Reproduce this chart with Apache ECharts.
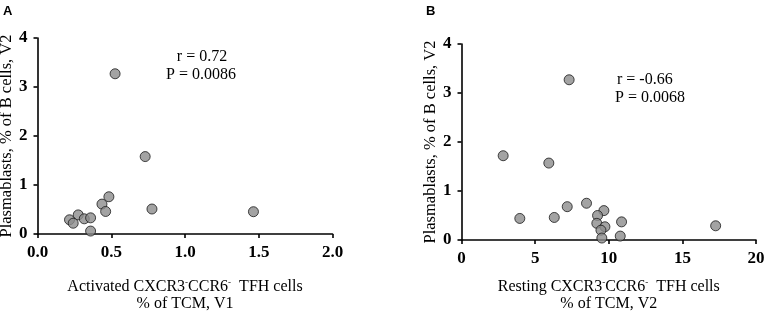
<!DOCTYPE html>
<html>
<head>
<meta charset="utf-8">
<script src="https://cdn.jsdelivr.net/npm/echarts@6/dist/echarts.min.js"></script>
<style>
  html, body { margin: 0; padding: 0; background: #fff; }
  #chart { width: 765px; height: 313px; }
</style>
</head>
<body>
<div id="chart"></div>
<script>
// panel A: activated CXCR3-CCR6- TFH (V1) vs plasmablasts (V2)
var activatedX = [0.526, 0.73, 0.776, 1.464, 0.484, 0.437, 0.462, 0.276, 0.217, 0.242, 0.317, 0.36, 0.36];
var activatedY = [3.27, 1.58, 0.51, 0.455, 0.76, 0.61, 0.46, 0.39, 0.29, 0.22, 0.31, 0.33, 0.06];

// panel B: resting CXCR3-CCR6- TFH (V2) vs plasmablasts (V2)
var restingX = [7.31, 2.83, 5.93, 3.96, 6.30, 7.18, 8.49, 9.67, 9.24, 9.19, 9.74, 9.47, 9.53, 10.87, 10.78, 17.26];
var restingY = [3.27, 1.72, 1.57, 0.44, 0.46, 0.68, 0.75, 0.60, 0.50, 0.34, 0.27, 0.20, 0.04, 0.37, 0.08, 0.29];

var statsA = ['r = 0.72', 'P = 0.0086'];
var statsB = ['r = -0.66', 'P = 0.0068'];

var serif = '"Liberation Serif", "Times New Roman", serif';

function pairs(xs, ys) {
  return xs.map(function (x, i) { return [x, ys[i]]; });
}

function xName(first, visit) {
  return '{n|' + first + ' CXCR3}{s|-}{n|CCR6}{s|-}{n|  TFH cells}\n{n|% of TCM, V' + visit + '}';
}

var axisLine = { lineStyle: { color: '#000', width: 1.6 } };
var axisTick = { show: true, inside: false, length: 4, lineStyle: { color: '#000', width: 1.6 } };
var axisLabel = { color: '#000', fontFamily: serif, fontWeight: 'bold', fontSize: 17 };

function makeX(idx, max, interval, fmt, name, gap) {
  return {
    type: 'value', gridIndex: idx, min: 0, max: max, interval: interval,
    axisLine: axisLine, axisTick: axisTick, splitLine: { show: false },
    axisLabel: Object.assign({ margin: 10, formatter: fmt }, axisLabel),
    name: name, nameLocation: 'middle', nameGap: gap,
    nameTextStyle: {
      rich: {
        n: { fontFamily: serif, fontSize: 16, color: '#000', lineHeight: 17 },
        s: { fontFamily: serif, fontSize: 9, color: '#000', verticalAlign: 'top', lineHeight: 17 }
      }
    }
  };
}

function makeY(idx, gap) {
  return {
    type: 'value', gridIndex: idx, min: 0, max: 4, interval: 1,
    axisLine: axisLine, axisTick: axisTick, splitLine: { show: false },
    axisLabel: Object.assign({ margin: 10 }, axisLabel),
    name: 'Plasmablasts, % of B cells, V2', nameLocation: 'middle', nameGap: gap,
    nameTextStyle: { fontFamily: serif, fontSize: 16.5, color: '#000' }
  };
}

var markerStyle = { color: '#8c8c8c', borderColor: '#1a1a1a', borderWidth: 1 };

var chart = echarts.init(document.getElementById('chart'));
chart.setOption({
  animation: false,
  backgroundColor: '#fff',
  grid: [
    { left: 37.5, top: 38, width: 295, height: 196, outerBoundsMode: 'none', containLabel: false },
    { left: 461.5, top: 44, width: 294.5, height: 196, outerBoundsMode: 'none', containLabel: false }
  ],
  xAxis: [
    makeX(0, 2, 0.5, function (v) { return v.toFixed(1); }, xName('Activated', 1), 44),
    makeX(1, 20, 5, function (v) { return v; }, xName('Resting', 2), 38)
  ],
  yAxis: [makeY(0, 18), makeY(1, 16)],
  series: [
    { type: 'scatter', xAxisIndex: 0, yAxisIndex: 0, symbolSize: 10, itemStyle: markerStyle, data: pairs(activatedX, activatedY) },
    { type: 'scatter', xAxisIndex: 1, yAxisIndex: 1, symbolSize: 10, itemStyle: markerStyle, data: pairs(restingX, restingY) }
  ],
  graphic: [
    { type: 'text', left: 3, top: 5, style: { text: 'A', font: 'bold 13px "Liberation Sans", Arial, sans-serif', fill: '#000' } },
    { type: 'text', left: 426, top: 5, style: { text: 'B', font: 'bold 13px "Liberation Sans", Arial, sans-serif', fill: '#000' } },
    { type: 'text', x: 202, y: 57, style: { text: statsA[0], font: '16px ' + serif, fill: '#000', align: 'center', verticalAlign: 'middle' } },
    { type: 'text', x: 201, y: 75, style: { text: statsA[1], font: '16px ' + serif, fill: '#000', align: 'center', verticalAlign: 'middle' } },
    { type: 'text', x: 617, y: 80, style: { text: statsB[0], font: '16px ' + serif, fill: '#000', align: 'left', verticalAlign: 'middle' } },
    { type: 'text', x: 615, y: 98, style: { text: statsB[1], font: '16px ' + serif, fill: '#000', align: 'left', verticalAlign: 'middle' } }
  ]
});
</script>
</body>
</html>
